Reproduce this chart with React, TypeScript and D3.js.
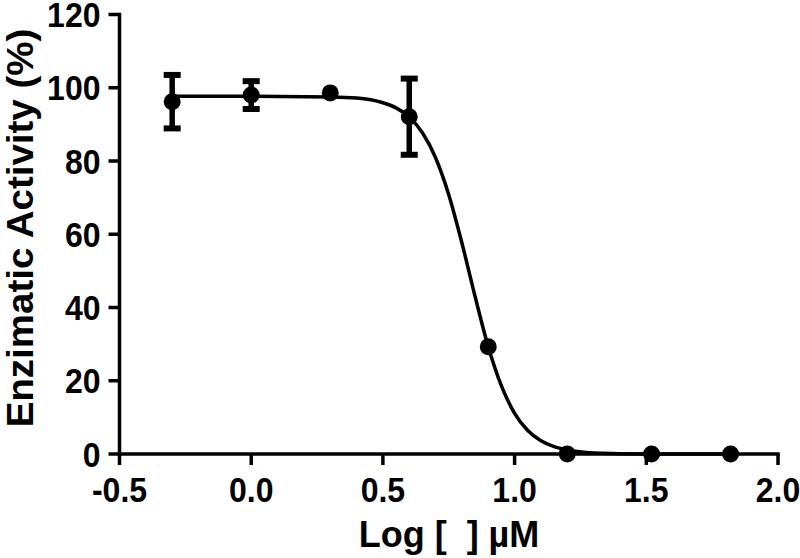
import React from "react";
import { curveMonotoneX, line, scaleLinear } from "d3";

// measured points (log concentration vs % activity, mean and SD)
const logConc = [-0.3, 0.0, 0.3, 0.6, 0.9, 1.2, 1.52, 1.82];
const activity = [96.2, 98.0, 98.6, 92.1, 29.3, 0.0, 0.0, 0.0];
const activitySD = [7.3, 3.8, 0, 10.4, 0, 0, 0, 0];

// fitted curve
const fitX = [-0.3, 0.0, 0.3, 0.4, 0.5, 0.55, 0.6, 0.65, 0.7, 0.75, 0.8, 0.85, 0.9, 0.95, 1.0, 1.05, 1.1, 1.15, 1.2, 1.3, 1.5, 1.82];
const fitY = [97.7, 97.7, 97.5, 97.2, 95.9, 94.5, 92.0, 87.7, 80.9, 70.8, 57.6, 43.0, 29.3, 18.6, 11.1, 6.4, 3.6, 2.0, 1.1, 0.3, 0.0, 0.0];

const xTicks = [-0.5, 0.0, 0.5, 1.0, 1.5, 2.0];
const yTicks = [0, 20, 40, 60, 80, 100, 120];

const FONT = "'Liberation Sans', Arial, Helvetica, sans-serif";
const AXIS_W = 3.5;
const TICK = 11;

const AxisBottom = ({ scale, y0 }) => {
  const [r0, r1] = scale.range();
  return (
    <g>
      <line x1={r0} x2={r1} y1={y0} y2={y0} stroke="#000" strokeWidth={AXIS_W} strokeLinecap="square" />
      {xTicks.map((t) => (
        <g key={`xt-${t}`} transform={`translate(${scale(t)},${y0})`}>
          <line y2={TICK} stroke="#000" strokeWidth={AXIS_W} />
          <g transform="translate(0,48) scale(1,1.1)">
            <text textAnchor="middle" fontFamily={FONT} fontWeight="bold" fontSize={32} fill="#000">
              {t.toFixed(1)}
            </text>
          </g>
        </g>
      ))}
    </g>
  );
};

const AxisLeft = ({ scale, x0 }) => {
  const [r0, r1] = scale.range();
  return (
    <g>
      <line x1={x0} x2={x0} y1={r0} y2={r1} stroke="#000" strokeWidth={AXIS_W} strokeLinecap="square" />
      {yTicks.map((t) => (
        <g key={`yt-${t}`} transform={`translate(${x0},${scale(t)})`}>
          <line x2={-TICK} stroke="#000" strokeWidth={AXIS_W} />
          <g transform="translate(-19,12.5) scale(1,1.1)">
            <text textAnchor="end" fontFamily={FONT} fontWeight="bold" fontSize={32} fill="#000">
              {t}
            </text>
          </g>
        </g>
      ))}
    </g>
  );
};

const App = () => {
  const width = 800;
  const height = 558;

  const x = scaleLinear().domain([-0.5, 2.0]).range([119.5, 778]);
  const y = scaleLinear().domain([0, 120]).range([454, 14.5]);

  const fitLine = line()
    .x((d) => x(d[0]))
    .y((d) => y(d[1]))
    .curve(curveMonotoneX);

  const fitPath = fitLine(fitX.map((v, i) => [v, fitY[i]]));

  return (
    <svg
      width={width}
      height={height}
      style={{ position: "absolute", left: 0, top: 0, background: "#fff" }}
    >
      <rect width={width} height={height} fill="#fff" />
      <AxisLeft scale={y} x0={x(-0.5)} />
      <AxisBottom scale={x} y0={y(0)} />

      <path d={fitPath} fill="none" stroke="#000" strokeWidth={3.5} />

      {logConc.map((c, i) =>
        activitySD[i] > 0 ? (
          <g key={`err-${i}`} stroke="#000">
            <line x1={x(c)} x2={x(c)} y1={y(activity[i] + activitySD[i])} y2={y(activity[i] - activitySD[i])} strokeWidth={5.5} />
            <line x1={x(c) - 8.5} x2={x(c) + 8.5} y1={y(activity[i] + activitySD[i])} y2={y(activity[i] + activitySD[i])} strokeWidth={6} />
            <line x1={x(c) - 8.5} x2={x(c) + 8.5} y1={y(activity[i] - activitySD[i])} y2={y(activity[i] - activitySD[i])} strokeWidth={6} />
          </g>
        ) : null
      )}

      {logConc.map((c, i) => (
        <circle key={`pt-${i}`} cx={x(c)} cy={y(activity[i])} r={8.5} fill="#000" />
      ))}

      <g transform="translate(33,228) rotate(-90) scale(1.07,1)">
        <text textAnchor="middle" fontFamily={FONT} fontWeight="bold" fontSize={36} fill="#000">
          Enzimatic Activity (%)
        </text>
      </g>
      <g transform="translate(449,547) scale(1,1.05)">
        <text textAnchor="middle" fontFamily={FONT} fontWeight="bold" fontSize={36} fill="#000" style={{ whiteSpace: "pre" }}>
          {"Log [  ] µM"}
        </text>
      </g>
    </svg>
  );
};

export default App;
